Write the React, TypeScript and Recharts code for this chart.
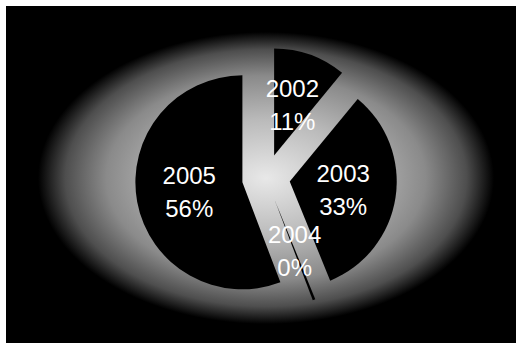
import { PieChart, Pie, Cell } from "recharts";

const years = ["2002", "2003", "2004", "2005"];
const shares = [11, 33, 0.4, 56];

const data = years.map((year, i) => ({ year, value: shares[i] }));
const total = shares.reduce((a, b) => a + b, 0);

const CX = 266;
const CY = 178;
const R = 107;
const EXPLODE = 24;
const RAD = Math.PI / 180;

// each slice is pushed out along its own middle angle
function centerFor(i: number) {
  const before = shares.slice(0, i).reduce((a, b) => a + b, 0);
  const mid = ((before + shares[i] / 2) / total) * 2 * Math.PI;
  return { x: CX + Math.sin(mid) * EXPLODE, y: CY - Math.cos(mid) * EXPLODE };
}

function makeLabel(k: number) {
  return (props: any) => {
    if (props.index !== k) return null;
    const { cx, cy, midAngle, outerRadius, percent } = props;
    const r = outerRadius * 0.505;
    const x = cx + r * Math.cos(-midAngle * RAD);
    const y = cy + r * Math.sin(-midAngle * RAD);
    const font = { fill: "#fff", fontSize: 24, fontFamily: "Liberation Sans, Arial, sans-serif" };
    return (
      <g>
        <text x={x} y={y - 8} textAnchor="middle" {...font}>
          {years[k]}
        </text>
        <text x={x} y={y + 25} textAnchor="middle" {...font}>
          {Math.round(percent * 100)}%
        </text>
      </g>
    );
  };
}

export default function App() {
  return (
    <div style={{ position: "absolute", left: 0, top: 0, width: 516, height: 343, background: "#fff" }}>
      <div
        style={{
          position: "absolute",
          left: 6,
          top: 6,
          right: 0,
          bottom: 0,
          background:
            "radial-gradient(ellipse 228px 146px at 260px 172px, #e8e8e8 0%, #bababa 40%, #8a8a8a 70%, #4e4e4e 88%, #000 100%)",
        }}
      />
      <div style={{ position: "absolute", left: 0, top: 0 }}>
        <PieChart width={516} height={343} margin={{ top: 0, right: 0, bottom: 0, left: 0 }}>
          {years.map((_, k) => {
            const c = centerFor(k);
            return (
              <Pie
                key={k}
                data={data}
                dataKey="value"
                nameKey="year"
                cx={c.x}
                cy={c.y}
                outerRadius={R}
                startAngle={90}
                endAngle={-270}
                stroke="none"
                labelLine={false}
                label={makeLabel(k)}
                isAnimationActive={false}
              >
                {data.map((_, i) => (
                  <Cell key={i} fill={i === k ? "#000" : "none"} stroke="none" />
                ))}
              </Pie>
            );
          })}
        </PieChart>
      </div>
    </div>
  );
}
